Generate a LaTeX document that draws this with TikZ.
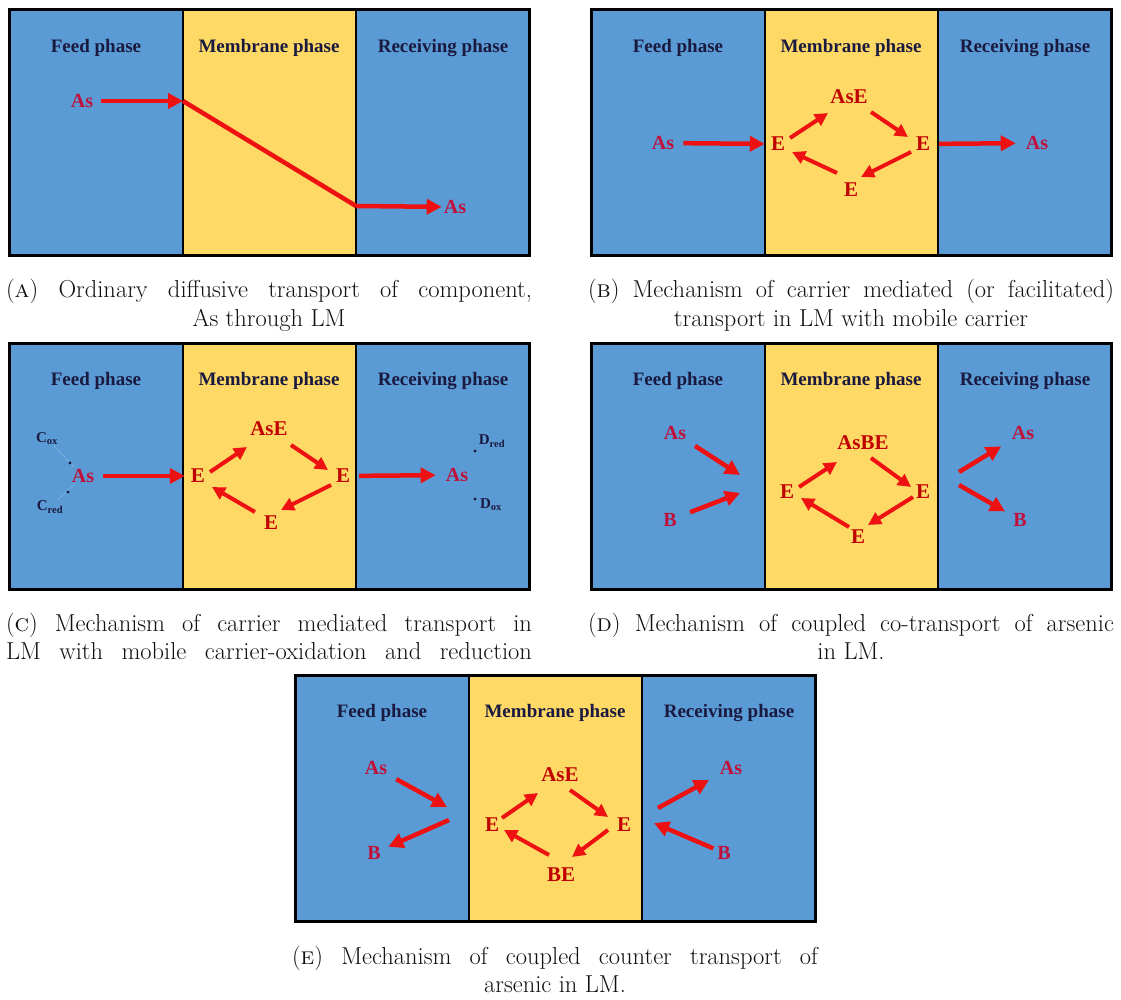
\documentclass[tikz,border=0pt]{standalone}
\usepackage{fontspec}
\newfontfamily\tnr{Liberation Serif}
\usetikzlibrary{arrows.meta}
\definecolor{phblue}{HTML}{5B9BD5}
\definecolor{phyel}{HTML}{FFD966}
\definecolor{arrred}{HTML}{EE1111}
\definecolor{lblred}{HTML}{C00000}
\definecolor{lblblue}{HTML}{C0103A}
\definecolor{headc}{HTML}{1A1A40}
\definecolor{captc}{HTML}{111111}
\definecolor{faintc}{HTML}{8CB8E0}
\newcommand\phasebox[1]{%
  \fill[phblue] (0,0) rectangle (520,246);
  \fill[phyel] (174,0) rectangle (347,246);
  \draw[line width=2pt] (174,0) -- (174,246) (347,0) -- (347,246);
  \draw[line width=3pt] (0,0) rectangle (520,246);
  \node[heading] (#1feed) at (87,38) {Feed phase};
  \node[heading] (#1mem) at (260,38) {Membrane phase};
  \node[heading] (#1recv) at (434,38) {Receiving phase};
}
% cycle arrow between two nodes, with offsets from their centres
\newcommand\cycarrow[4]{%
  \draw[cyc] ([shift={(#2)}]#1.center) -- ([shift={(#4)}]#3.center);
}
\tikzset{
  heading/.style={font=\tnr\bfseries\fontsize{19}{21}\selectfont, text=headc, inner sep=0pt},
  spec/.style={font=\tnr\bfseries\fontsize{20}{22}\selectfont, text=lblblue, inner sep=2pt},
  carr/.style={font=\tnr\bfseries\fontsize{21}{23}\selectfont, text=lblred, inner sep=2pt},
  redox/.style={font=\tnr\bfseries\fontsize{15}{17}\selectfont, text=headc, inner sep=1pt},
  arr/.style={draw=arrred, line width=4.5pt, -{Triangle[length=15pt,width=15pt]}},
  cyc/.style={draw=arrred, line width=4pt, -{Triangle[length=13pt,width=13pt]}},
  plainline/.style={draw=arrred, line width=4.5pt},
  faint/.style={draw=faintc, densely dotted, line width=1pt},
  capt/.style={font=\fontsize{24.5}{28}\selectfont\addfontfeatures{FakeBold=1}, text=captc, inner sep=0pt, anchor=base}
}
\begin{document}
\begin{tikzpicture}[x=1pt, y=-1pt]
\useasboundingbox (0,0) rectangle (1121,1000);
\fill[white] (0,0) rectangle (1121,1000);

% ---------- Panel A ----------
\begin{scope}[shift={(9,10)}]
  \phasebox{a}
  \node[spec] (aAs1) at (73,91) {As};
  \coordinate (aD1) at (174,91);
  \coordinate (aD2) at (347,196);
  \node[spec] (aAs2) at (446,197) {As};
  \draw[arr, shorten <=6pt] (aAs1) -- (aD1);
  \draw[plainline] (aD1) -- (aD2);
  \draw[arr] (aD2) -- (aAs2);
\end{scope}
\node[capt] (capA1) at (269,298) {\makebox[526pt][s]{(\textsc{a}) Ordinary diffusive transport of component,}};
\node[capt] (capA2) at (269,326) {As through LM};

% ---------- Panel B ----------
\begin{scope}[shift={(591,10)}]
  \phasebox{b}
  \node[spec] (bAs1) at (72,133) {As};
  \node[carr] (bEl) at (187,134) {E};
  \node[carr] (bTop) at (258,87) {AsE};
  \node[carr] (bEr) at (332,134) {E};
  \node[carr] (bEb) at (260,180) {E};
  \node[spec] (bAs2) at (446,133) {As};
  \draw[arr, shorten <=7pt, shorten >=4pt] (bAs1) -- (bEl);
  \draw[arr, shorten <=7pt, shorten >=8pt] (bEr) -- (bAs2);
  \cycarrow{bEl}{12,-6}{bTop}{-21,16}
  \cycarrow{bTop}{22,15}{bEr}{-15,-7}
  \cycarrow{bEr}{-12,8}{bEb}{10,-13}
  \cycarrow{bEb}{-14,-17}{bEl}{14,8}
\end{scope}
\node[capt] (capB1) at (851,298) {\makebox[526pt][s]{(\textsc{b}) Mechanism of carrier mediated (or facilitated)}};
\node[capt] (capB2) at (851,326) {transport in LM with mobile carrier};

% ---------- Panel C ----------
\begin{scope}[shift={(9,343)}]
  \phasebox{c}
  \node[spec] (cAs1) at (74,133) {As};
  \node[redox] (cCox) at (38,96) {C\textsubscript{ox}};
  \node[redox] (cCred) at (41,164) {C\textsubscript{red}};
  \draw[faint] (cCox) -- (cAs1);
  \draw[faint] (cAs1) -- (cCred);
  \fill[headc] (61,120) circle (1.6pt);
  \fill[headc] (59,149) circle (1.6pt);
  \node[carr] (cEl) at (189,133) {E};
  \node[carr] (cTop) at (260,86) {AsE};
  \node[carr] (cEr) at (334,133) {E};
  \node[carr] (cEb) at (262,180) {E};
  \node[spec] (cAs2) at (448,132) {As};
  \node[redox] (cDred) at (483,98) {D\textsubscript{red}};
  \node[redox] (cDox) at (482,162) {D\textsubscript{ox}};
  \fill[headc] (466,108) circle (1.6pt);
  \fill[headc] (466,156) circle (1.6pt);
  \draw[arr, shorten <=7pt, shorten >=4pt] (cAs1) -- (cEl);
  \draw[arr, shorten <=7pt, shorten >=8pt] (cEr) -- (cAs2);
  \cycarrow{cEl}{12,-4}{cTop}{-22,18}
  \cycarrow{cTop}{22,16}{cEr}{-15,-6}
  \cycarrow{cEr}{-12,9}{cEb}{10,-13}
  \cycarrow{cEb}{-16,-11}{cEl}{14,11}
\end{scope}
\node[capt] (capC1) at (269,631) {\makebox[526pt][s]{(\textsc{c}) Mechanism of carrier mediated transport in}};
\node[capt] (capC2) at (269,659) {\makebox[526pt][s]{LM with mobile carrier-oxidation and reduction}};

% ---------- Panel D ----------
\begin{scope}[shift={(591,343)}]
  \phasebox{d}
  \node[spec] (dAs1) at (84,90) {As};
  \node[spec] (dB1) at (79,177) {B};
  \coordinate (dJa) at (149,132);
  \coordinate (dJb) at (149,150);
  \draw[arr, shorten <=8pt] (dAs1) -- (dJa);
  \draw[arr, shorten <=12pt] (dB1) -- (dJb);
  \node[carr] (dTop) at (272,100) {AsBE};
  \node[carr] (dEl) at (196,149) {E};
  \node[carr] (dEr) at (332,149) {E};
  \node[carr] (dEb) at (267,194) {E};
  \cycarrow{dEl}{12,-5}{dTop}{-26,19}
  \cycarrow{dTop}{8,15}{dEr}{-12,-5}
  \cycarrow{dEr}{-10,5}{dEb}{10,-12}
  \cycarrow{dEb}{-9,-10}{dEl}{14,6}
  \coordinate (dKa) at (368,129);
  \coordinate (dKb) at (368,142);
  \node[spec] (dAs2) at (432,90) {As};
  \node[spec] (dB2) at (429,177) {B};
  \draw[arr, shorten >=10pt] (dKa) -- (dAs2);
  \draw[arr, shorten >=7pt] (dKb) -- (dB2);
\end{scope}
\node[capt] (capD1) at (851,631) {\makebox[526pt][s]{(\textsc{d}) Mechanism of coupled co-transport of arsenic}};
\node[capt] (capD2) at (851,659) {in LM.};

% ---------- Panel E ----------
\begin{scope}[shift={(295,675)}]
  \phasebox{e}
  \node[spec] (eAs1) at (81,93) {As};
  \node[spec] (eB1) at (79,178) {B};
  \coordinate (eJa) at (152,132);
  \coordinate (eJb) at (154,145);
  \draw[arr, shorten <=8pt] (eAs1) -- (eJa);
  \draw[arr, shorten >=6pt] (eJb) -- (eB1);
  \node[carr] (eTop) at (265,100) {AsE};
  \node[carr] (eEl) at (197,150) {E};
  \node[carr] (eEr) at (329,150) {E};
  \node[carr] (eBot) at (266,200) {BE};
  \cycarrow{eEl}{10,-7}{eTop}{-22,18}
  \cycarrow{eTop}{10,15}{eEr}{-16,-8}
  \cycarrow{eEr}{-16,5}{eBot}{11,-18}
  \cycarrow{eBot}{-12,-20}{eEl}{12,5}
  \coordinate (eKa) at (363,133);
  \coordinate (eKb) at (359,148);
  \node[spec] (eAs2) at (436,93) {As};
  \node[spec] (eB2) at (429,178) {B};
  \draw[arr, shorten >=10pt] (eKa) -- (eAs2);
  \draw[arr, shorten <=2pt] (eB2) -- (eKb);
\end{scope}
\node[capt] (capE1) at (555,964) {\makebox[526pt][s]{(\textsc{e}) Mechanism of coupled counter transport of}};
\node[capt] (capE2) at (555,992) {arsenic in LM.};
\end{tikzpicture}
\end{document}
